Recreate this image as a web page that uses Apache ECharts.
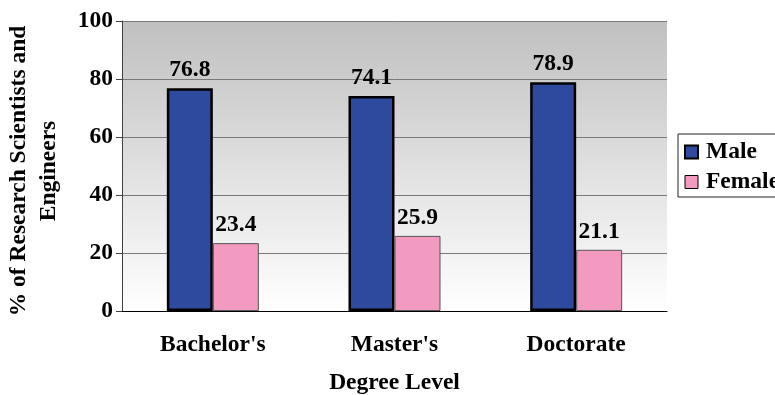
<!DOCTYPE html>
<html>
<head>
<meta charset="utf-8">
<script src="https://cdn.jsdelivr.net/npm/echarts@6/dist/echarts.min.js"></script>
<style>
html,body{margin:0;padding:0;background:#fff;}
#c{width:775px;height:395px;}
</style>
</head>
<body>
<div id="c"></div>
<script>
var categories = ["Bachelor's", "Master's", "Doctorate"];
var maleValues = [76.8, 74.1, 78.9];
var femaleValues = [23.4, 25.9, 21.1];
var yTicks = [0, 20, 40, 60, 80, 100];

var FONT = '"Liberation Serif", "Times New Roman", serif';
var FS = 23.5;
var chart = echarts.init(document.getElementById('c'), null, {renderer: 'canvas'});
chart.setOption({
  animation: false,
  backgroundColor: '#ffffff',
  textStyle: {fontFamily: FONT},
  grid: {
    left: 122, right: 108, top: 21, bottom: 84,
    containLabel: false,
    outerBoundsMode: 'none',
    show: true,
    borderWidth: 0,
    backgroundColor: new echarts.graphic.LinearGradient(0, 0, 0, 1, [
      {offset: 0, color: '#c0c0c0'},
      {offset: 1, color: '#ffffff'}
    ])
  },
  legend: {
    left: 678, top: 134,
    orient: 'vertical',
    backgroundColor: '#ffffff',
    borderColor: '#222222',
    borderWidth: 1,
    padding: [6, 6, 3, 6],
    itemGap: 6,
    itemWidth: 13, itemHeight: 13,
    icon: 'rect',
    textStyle: {fontFamily: FONT, fontWeight: 'bold', fontSize: FS, color: '#000', padding: [0, 0, 0, 3]},
    data: [
      {name: 'Male', itemStyle: {borderColor: '#000', borderWidth: 2}},
      {name: 'Female', itemStyle: {borderColor: '#000', borderWidth: 1}}
    ]
  },
  xAxis: {
    type: 'category',
    data: categories,
    name: 'Degree Level',
    nameLocation: 'middle',
    nameGap: 60,
    nameTextStyle: {fontFamily: FONT, fontWeight: 'bold', fontSize: FS, color: '#000'},
    axisLine: {lineStyle: {color: '#000', width: 1}},
    axisTick: {show: false},
    axisLabel: {fontFamily: FONT, fontWeight: 'bold', fontSize: FS, color: '#000', margin: 22}
  },
  yAxis: {
    type: 'value',
    min: 0, max: 100, interval: 20,
    name: '% of Research Scientists and\nEngineers',
    nameLocation: 'middle',
    nameRotate: 90,
    nameGap: 58,
    nameTextStyle: {fontFamily: FONT, fontWeight: 'bold', fontSize: FS, color: '#000', lineHeight: 30, align: 'center', padding: [0, 10, 0, 0]},
    axisLine: {show: true, lineStyle: {color: '#404040', width: 1}},
    axisTick: {show: true, length: 6, lineStyle: {color: '#404040'}},
    axisLabel: {fontFamily: FONT, fontWeight: 'bold', fontSize: FS, color: '#000', margin: 9,
      formatter: function (v) { return yTicks.indexOf(v) >= 0 ? String(v) : ''; }},
    splitLine: {show: true, lineStyle: {color: '#7a7a7a', width: 1}}
  },
  series: [
    {
      name: 'Male', type: 'bar', data: maleValues,
      barWidth: 46, barGap: '0%',
      itemStyle: {color: '#2E4A9E', borderColor: '#000', borderWidth: 2.5},
      label: {show: true, position: 'top', distance: 6, fontFamily: FONT, fontWeight: 'bold', fontSize: FS, color: '#000',
        formatter: function (p) { return p.value.toFixed(1); }}
    },
    {
      name: 'Female', type: 'bar', data: femaleValues,
      barWidth: 46, barGap: '0%',
      itemStyle: {color: '#F29AC0', borderColor: '#555', borderWidth: 1},
      label: {show: true, position: 'top', distance: 6, fontFamily: FONT, fontWeight: 'bold', fontSize: FS, color: '#000',
        formatter: function (p) { return p.value.toFixed(1); }}
    }
  ]
});
</script>
</body>
</html>
